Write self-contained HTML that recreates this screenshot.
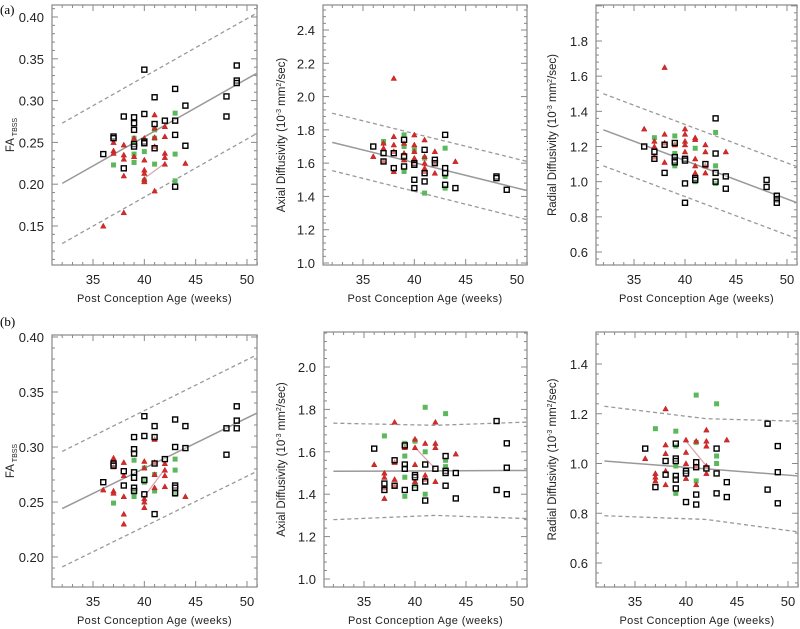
<!DOCTYPE html>
<html><head><meta charset="utf-8"><style>
html,body{margin:0;padding:0;background:#fff;}
svg{display:block;font-family:"Liberation Sans",sans-serif;}
</style></head><body>
<svg id="fig" width="800" height="629" viewBox="0 0 800 629" xmlns="http://www.w3.org/2000/svg">
<text x="0" y="14" font-size="13" font-family="Liberation Serif,serif">(a)</text>
<text x="0" y="326" font-size="13" font-family="Liberation Serif,serif">(b)</text>
</svg>
<script>
// ---- data (age in weeks, value) ----
const faA_black=[[36,.236],[37,.257],[37,.255],[38,.281],[38,.219],[39,.280],[39,.273],[39,.265],[39,.248],[39,.245],[40,.337],[40,.284],[40,.251],[40,.249],[41,.304],[41,.272],[41,.243],[42,.276],[43,.314],[43,.276],[43,.259],[43,.197],[44,.294],[44,.246],[48,.305],[48,.281],[49,.342],[49,.324],[49,.321]];
const faA_red=[[36,.150],[37,.250],[37,.240],[37,.237],[38,.247],[38,.235],[38,.230],[38,.210],[38,.166],[39,.255],[39,.233],[40,.255],[40,.229],[40,.217],[40,.213],[40,.206],[40,.203],[41,.283],[41,.267],[41,.256],[41,.245],[41,.192],[42,.269],[42,.257],[42,.237],[42,.232],[42,.224],[44,.225]];
const faA_green=[[37,.223],[39,.255],[39,.250],[39,.236],[39,.226],[40,.239],[40,.204],[41,.265],[41,.255],[41,.224],[43,.285],[43,.236],[43,.204]];
const faA_fit=[[32,.201],[51,.333]], faA_up=[[32,.273],[51,.405]], faA_lo=[[32,.129],[51,.261]], faA_pink=[[40,.207],[42,.225]];

const adA_black=[[36,1.70],[37,1.66],[37,1.61],[38,1.66],[38,1.57],[39,1.74],[39,1.64],[39,1.58],[40,1.60],[40,1.59],[40,1.50],[40,1.45],[41,1.68],[41,1.54],[41,1.49],[42,1.62],[42,1.60],[43,1.77],[43,1.57],[43,1.54],[43,1.47],[44,1.45],[48,1.52],[48,1.51],[49,1.44]];
const adA_red=[[36,1.64],[37,1.72],[37,1.69],[37,1.61],[38,2.11],[38,1.76],[38,1.71],[38,1.67],[38,1.55],[39,1.72],[39,1.66],[39,1.62],[40,1.77],[40,1.71],[40,1.67],[40,1.63],[40,1.60],[41,1.74],[41,1.64],[41,1.60],[41,1.57],[41,1.55],[42,1.67],[42,1.60],[42,1.54],[44,1.61]];
const adA_green=[[37,1.73],[39,1.77],[39,1.70],[39,1.62],[39,1.55],[40,1.68],[41,1.42],[41,1.63],[43,1.69],[43,1.52],[43,1.45]];
const adA_fit=[[32,1.725],[51,1.435]], adA_up=[[32,1.90],[51,1.61]], adA_lo=[[32,1.555],[51,1.26]], adA_pink=[];

const rdA_black=[[36,1.20],[37,1.17],[37,1.13],[38,1.21],[38,1.05],[39,1.22],[39,1.14],[39,1.12],[39,1.11],[40,1.13],[40,1.12],[40,0.99],[40,0.88],[41,1.02],[41,1.01],[42,1.10],[43,1.36],[43,1.16],[43,1.05],[43,1.00],[44,1.03],[44,0.96],[48,1.01],[48,0.97],[49,0.92],[49,0.90],[49,0.88]];
const rdA_red=[[36,1.30],[37,1.23],[37,1.20],[37,1.14],[38,1.65],[38,1.27],[38,1.22],[38,1.11],[39,1.21],[40,1.30],[40,1.27],[40,1.23],[40,1.21],[40,1.17],[41,1.25],[41,1.24],[41,1.13],[41,1.09],[41,1.05],[42,1.21],[42,1.17],[42,1.09],[42,1.05],[44,1.17]];
const rdA_green=[[37,1.25],[39,1.26],[39,1.21],[39,1.16],[39,1.10],[39,1.09],[41,1.19],[41,1.00],[43,1.28],[43,1.09],[43,0.99]];
const rdA_fit=[[32,1.295],[51,0.88]], rdA_up=[[32,1.50],[51,1.085]], rdA_lo=[[32,1.09],[51,0.675]], rdA_pink=[];

const faB_black=[[36,.268],[37,.285],[37,.283],[38,.278],[38,.265],[39,.309],[39,.298],[39,.294],[39,.277],[39,.272],[39,.263],[39,.260],[40,.328],[40,.310],[40,.270],[40,.257],[41,.319],[41,.309],[41,.285],[41,.239],[42,.289],[43,.325],[43,.300],[43,.265],[43,.263],[43,.258],[44,.319],[44,.299],[48,.317],[48,.293],[49,.337],[49,.324],[49,.317]];
const faB_red=[[36,.261],[37,.290],[37,.287],[37,.282],[37,.260],[37,.258],[38,.286],[38,.274],[38,.255],[38,.239],[38,.230],[40,.287],[40,.281],[40,.253],[40,.250],[40,.245],[41,.307],[41,.286],[41,.275],[41,.263],[42,.285],[42,.279],[42,.274],[42,.264],[44,.255]];
const faB_green=[[37,.249],[39,.288],[39,.258],[39,.255],[40,.281],[40,.271],[40,.268],[41,.275],[41,.260],[43,.289],[43,.279],[43,.257]];
const faB_fit=[[32,.244],[51,.331]], faB_up=[[32,.296],[51,.384]], faB_lo=[[32,.191],[51,.278]], faB_pink=[[40,.255],[42,.280]];

const adB_black=[[36,1.615],[37,1.45],[37,1.42],[38,1.56],[38,1.44],[39,1.63],[39,1.54],[39,1.52],[39,1.42],[40,1.49],[40,1.48],[40,1.43],[41,1.54],[41,1.46],[41,1.37],[42,1.52],[43,1.58],[43,1.51],[43,1.50],[43,1.44],[44,1.50],[44,1.38],[48,1.745],[48,1.42],[49,1.64],[49,1.525],[49,1.40]];
const adB_red=[[36,1.54],[37,1.50],[37,1.48],[37,1.43],[37,1.38],[38,1.74],[38,1.55],[38,1.47],[38,1.44],[39,1.62],[40,1.66],[40,1.62],[40,1.54],[40,1.46],[41,1.64],[41,1.49],[41,1.47],[42,1.74],[42,1.64],[42,1.62],[42,1.46],[44,1.59]];
const adB_green=[[37,1.675],[39,1.64],[39,1.58],[39,1.48],[39,1.39],[40,1.65],[40,1.44],[41,1.81],[41,1.60],[41,1.40],[43,1.78],[43,1.56],[43,1.53]];
const adB_fit=[[32,1.508],[51,1.512]], adB_up=[[32,1.735],[42,1.725],[51,1.74]], adB_lo=[[32,1.28],[42,1.30],[51,1.285]], adB_pink=[[40,1.62],[42,1.52]];

const rdB_black=[[36,1.06],[37,0.905],[38,1.01],[38,0.955],[39,1.08],[39,1.02],[39,1.01],[39,0.95],[39,0.935],[39,0.90],[40,0.97],[40,0.96],[40,0.845],[41,1.005],[41,0.985],[41,0.875],[41,0.835],[42,0.98],[43,1.06],[43,0.96],[43,0.88],[44,0.925],[44,0.865],[48,1.16],[48,0.895],[49,1.07],[49,0.965],[49,0.84]];
const rdB_red=[[36,1.02],[37,0.96],[37,0.945],[37,0.93],[38,1.22],[38,1.075],[38,1.04],[38,0.97],[38,0.915],[40,1.095],[40,1.045],[40,1.00],[40,0.94],[41,1.09],[41,0.99],[41,0.915],[42,1.135],[42,1.09],[42,1.07],[42,0.99],[42,0.96],[44,1.095]];
const rdB_green=[[37,1.14],[39,1.13],[39,1.07],[39,0.99],[39,0.88],[41,1.275],[41,1.085],[41,0.93],[43,1.24],[43,1.03],[43,1.00]];
const rdB_fit=[[32,1.01],[51,0.95]], rdB_up=[[32,1.23],[42,1.18],[51,1.17]], rdB_lo=[[32,0.79],[42,0.775],[51,0.725]], rdB_pink=[[40,1.09],[42,0.99]];

const xTickLabels=[35,40,45,50];
const faTicksA=[0.15,0.20,0.25,0.30,0.35,0.40];
const adTicksA=[1.0,1.2,1.4,1.6,1.8,2.0,2.2,2.4];
const rdTicksA=[0.6,0.8,1.0,1.2,1.4,1.6,1.8];
const faTicksB=[0.20,0.25,0.30,0.35,0.40];
const adTicksB=[1.0,1.2,1.4,1.6,1.8,2.0];
const rdTicksB=[0.6,0.8,1.0,1.2,1.4];

const NS='http://www.w3.org/2000/svg';
const svg=document.getElementById('fig');
function mk(tag,attrs,parent){const e=document.createElementNS(NS,tag);for(const k in attrs)e.setAttribute(k,attrs[k]);(parent||svg).appendChild(e);return e;}

function panel(id,box,xa,ya,yticks,dec,ytitle,isFA,black,red,green,fit,up,lo,pink,ylab){
  const g=mk('g',{});
  
  
  const [L,T,R,B]=box;
  const X=v=>xa[1]+(v-xa[0])*(xa[3]-xa[1])/(xa[2]-xa[0]);
  const Y=v=>ya[1]+(v-ya[0])*(ya[3]-ya[1])/(ya[2]-ya[0]);
  const frame=mk('rect',{x:L,y:T,width:R-L,height:B-T,fill:'none',stroke:'#888','stroke-width':1.2},g);
  
  
  for(let a=32;a<=51;a++){const x=X(a);const len=(a%5==0)?6:3;
    mk('line',{x1:x,x2:x,y1:B,y2:B-len,stroke:'#888'},g);mk('line',{x1:x,x2:x,y1:T,y2:T+len,stroke:'#888'},g);}
  xTickLabels.forEach(a=>{const t=mk('text',{x:X(a),y:B+19,'text-anchor':'middle','font-size':13,fill:'#222'},g);t.textContent=a;
    
    });
  const xt=mk('text',{x:(L+R)/2,y:B+37,'text-anchor':'middle','font-size':11,fill:'#222','letter-spacing':'0.4'},g);
  xt.textContent='Post Conception Age (weeks)';
  
  
  const step=yticks[1]-yticks[0];
  for(let v=yticks[0]-step;v<=yticks[yticks.length-1]+step*1.01;v+=step/5){const y=Y(v);if(y<T||y>B)continue;
    const major=Math.abs(((v-yticks[0])/step)-Math.round((v-yticks[0])/step))<0.01;const len=major?6:3;
    mk('line',{x1:L,x2:L+len,y1:y,y2:y,stroke:'#888'},g);mk('line',{x1:R,x2:R-len,y1:y,y2:y,stroke:'#888'},g);}
  yticks.forEach(v=>{const t=mk('text',{x:L-8,y:Y(v)+5,'text-anchor':'end','font-size':13,fill:'#222'},g);t.textContent=v.toFixed(dec);
    
    });
  const cy=(T+B)/2;
  const yt=mk('text',{x:ylab,y:cy,'text-anchor':'middle','font-size':11.5,fill:'#222',transform:`rotate(-90 ${ylab} ${cy})`},g);
  
  
  if(isFA){yt.innerHTML='FA<tspan font-size="7" dy="3"> TBSS</tspan>';}
  else{yt.innerHTML=ytitle+' (10<tspan font-size="7" dy="-4">-3</tspan><tspan dy="4"> mm</tspan><tspan font-size="7" dy="-4">2</tspan><tspan dy="4">/sec)</tspan>';}
  const line=(pts,attrs,name)=>{if(!pts.length)return;const p=mk('polyline',Object.assign({points:pts.map(q=>X(q[0])+','+Y(q[1])).join(' '),fill:'none'},attrs),g);
    
    };
  line(up,{stroke:'#999','stroke-width':1.3,'stroke-dasharray':'4,3'},'upper-prediction-bound');
  line(lo,{stroke:'#999','stroke-width':1.3,'stroke-dasharray':'4,3'},'lower-prediction-bound');
  line(fit,{stroke:'#999','stroke-width':1.5},'regression-line');
  line(pink,{stroke:'#d8a0b0','stroke-width':1.2},'subgroup-line');
  green.forEach(q=>{const r=mk('rect',{x:X(q[0])-2.5,y:Y(q[1])-2.5,width:5,height:5,fill:'#5cb85c'},g);
    
    });
  red.forEach(q=>{const x=X(q[0]),y=Y(q[1]);const p=mk('polygon',{points:`${x-2.8},${y+2.2} ${x+2.8},${y+2.2} ${x},${y-2.8}`,fill:'#d42a2a',stroke:'#c02020','stroke-width':0.5},g);
    
    });
  black.forEach(q=>{const r=mk('rect',{x:X(q[0])-2.5,y:Y(q[1])-2.5,width:5,height:5,fill:'#fff','fill-opacity':0.4,stroke:'#000','stroke-width':1.4},g);
    
    });
}
panel('fa-panel-a',[52,5,257,265],[35,93,50,247],[0.40,17,0.15,226],faTicksA,2,'',true,faA_black,faA_red,faA_green,faA_fit,faA_up,faA_lo,faA_pink,14);
panel('axial-panel-a',[323,5,527,265],[35,363,50,517],[2.4,30,1.0,263],adTicksA,1,'Axial Diffusivity',false,adA_black,adA_red,adA_green,adA_fit,adA_up,adA_lo,adA_pink,285);
panel('radial-panel-a',[596,5,797,265],[35,634,50,787],[1.8,41,0.6,252],rdTicksA,1,'Radial Diffusivity',false,rdA_black,rdA_red,rdA_green,rdA_fit,rdA_up,rdA_lo,rdA_pink,556);
panel('fa-panel-b',[52,335,257,587],[35,93,50,247],[0.40,337,0.20,557],faTicksB,2,'',true,faB_black,faB_red,faB_green,faB_fit,faB_up,faB_lo,faB_pink,14);
panel('axial-panel-b',[324,332,527,587],[35,364,50,517],[2.0,367,1.0,579],adTicksB,1,'Axial Diffusivity',false,adB_black,adB_red,adB_green,adB_fit,adB_up,adB_lo,adB_pink,285);
panel('radial-panel-b',[596,332,798,587],[35,635,50,788],[1.4,364,0.6,563],rdTicksB,1,'Radial Diffusivity',false,rdB_black,rdB_red,rdB_green,rdB_fit,rdB_up,rdB_lo,rdB_pink,556);
</script>
</body></html>
